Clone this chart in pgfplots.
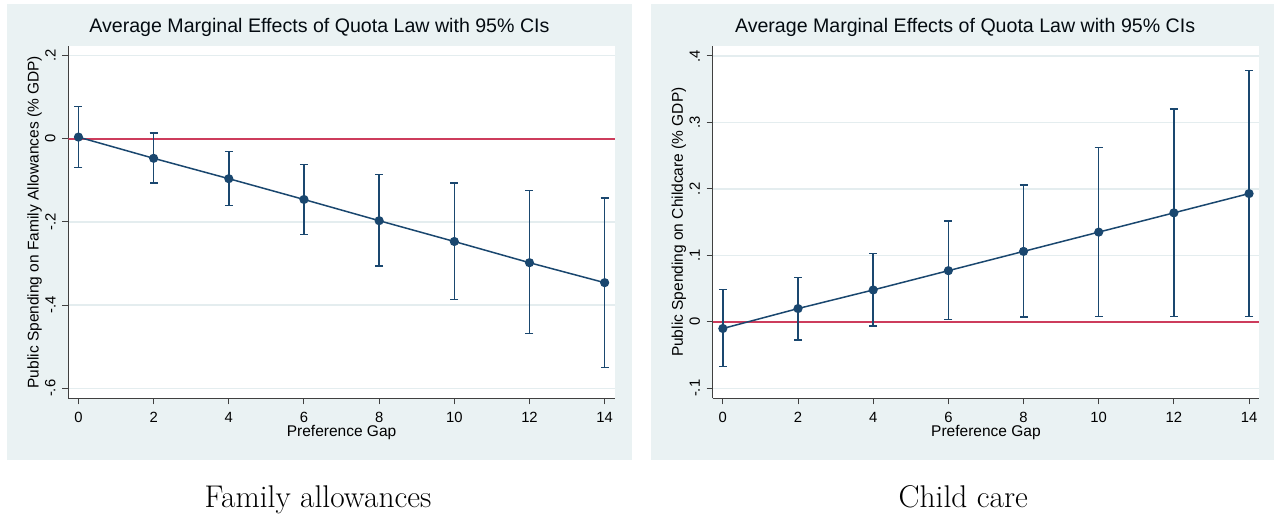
\documentclass[border=0pt]{standalone}
\usepackage{fontspec}
\usepackage{pgfplots}
\pgfplotsset{compat=1.18}
\usepackage{pgfplotstable}
\newfontfamily\arial{Liberation Sans}
\definecolor{bgc}{HTML}{EAF2F3}
\definecolor{navy}{HTML}{1A476F}
\definecolor{refred}{HTML}{CD3C5C}
\definecolor{gridc}{HTML}{E4EDEF}
\definecolor{axc}{HTML}{404040}

\pgfplotstableread{
x y lo hi
0 0.004 -0.069 0.078
2 -0.047 -0.106 0.014
4 -0.096 -0.160 -0.031
6 -0.146 -0.230 -0.062
8 -0.197 -0.306 -0.086
10 -0.247 -0.386 -0.106
12 -0.298 -0.468 -0.125
14 -0.346 -0.550 -0.142
}\famtab

\pgfplotstableread{
x y lo hi
0 -0.010 -0.067 0.049
2 0.020 -0.027 0.067
4 0.048 -0.006 0.103
6 0.077 0.0035 0.152
8 0.106 0.007 0.206
10 0.135 0.008 0.262
12 0.164 0.008 0.320
14 0.193 0.008 0.378
}\childtab

\pgfplotsset{stata/.style={
  scale only axis, width=546.5pt, height=352.3pt, anchor=south west,
  xmin=-0.27, xmax=14.27,
  axis x line*=bottom, axis y line*=left,
  axis line style={-, axc, line width=1pt},
  axis background/.style={fill=white},
  tick align=outside, major tick length=6pt,
  tick style={axc, line width=1pt},
  xtick={0,2,...,14},
  minor tick num=0,
  ymajorgrids, grid style={gridc, line width=1.5pt},
  tick label style={font=\arial\fontsize{14.8}{16}\selectfont, text=black},
  /pgf/number format/assume math mode=true,
  xticklabel style={anchor=base, inner sep=0pt},
  xticklabel shift=18pt,
  yticklabel style={rotate=90, anchor=south, inner sep=0pt},
  yticklabel shift=6.6pt,
  label style={font=\arial\fontsize{15.5}{17}\selectfont, text=black},
  xlabel style={at={(axis description cs:0.5,-0.109)}, anchor=base},
  ylabel style={at={(axis description cs:-0.0545,0.5)}, anchor=base},
  title style={font=\arial\fontsize{19.6}{22}\selectfont, text=black!85!navy, anchor=base},
  xlabel={Preference Gap},
}}

\begin{document}
\begin{tikzpicture}
\fill[white] (0,0) rectangle (1274pt,519pt);
\fill[bgc] (6.7pt,59pt) rectangle (632pt,515pt);
\fill[bgc] (651.4pt,59pt) rectangle (1274pt,515pt);

\begin{axis}[stata, at={(68.3pt,120.7pt)},
  ymin=-0.624, ymax=0.223,
  ytick={-0.6,-0.4,-0.2,0,0.2}, yticklabels={-.6,-.4,-.2,0,.2},
  ylabel={Public Spending on Family Allowances (\% GDP)},
  title={Average Marginal Effects of Quota Law with 95\% CIs},
  title style={at={(axis description cs:0.4595,1.0199)}},
]
\addplot[refred, line width=2pt, forget plot] coordinates {(-0.27,0) (14.27,0)};
\addplot[navy, line width=1.5pt, mark=*, mark size=3.8pt, mark options={solid, fill=navy},
  error bars/.cd, y dir=both, y explicit,
  error bar style={line width=1.5pt, navy},
  error mark options={rotate=90, navy, line width=1.5pt, mark size=4pt}]
  table[x=x, y=y, y error plus expr=\thisrow{hi}-\thisrow{y}, y error minus expr=\thisrow{y}-\thisrow{lo}] {\famtab};
\end{axis}

\begin{axis}[stata, at={(712.7pt,120.7pt)},
  ymin=-0.115, ymax=0.415,
  ytick={-0.1,0,0.1,0.2,0.3,0.4}, yticklabels={-.1,0,.1,.2,.3,.4},
  ylabel={Public Spending on Childcare (\% GDP)},
  title={Average Marginal Effects of Quota Law with 95\% CIs},
  title style={at={(axis description cs:0.4618,1.0199)}},
]
\addplot[refred, line width=2pt, forget plot] coordinates {(-0.27,0) (14.27,0)};
\addplot[navy, line width=1.5pt, mark=*, mark size=3.8pt, mark options={solid, fill=navy},
  error bars/.cd, y dir=both, y explicit,
  error bar style={line width=1.5pt, navy},
  error mark options={rotate=90, navy, line width=1.5pt, mark size=4pt}]
  table[x=x, y=y, y error plus expr=\thisrow{hi}-\thisrow{y}, y error minus expr=\thisrow{y}-\thisrow{lo}] {\childtab};
\end{axis}

\node[font=\fontsize{31.4}{36}\selectfont, anchor=base] at (318pt,11.7pt) {Family allowances};
\node[font=\fontsize{31.4}{36}\selectfont, anchor=base] at (963.3pt,11.5pt) {Child care};
\end{tikzpicture}
\end{document}
